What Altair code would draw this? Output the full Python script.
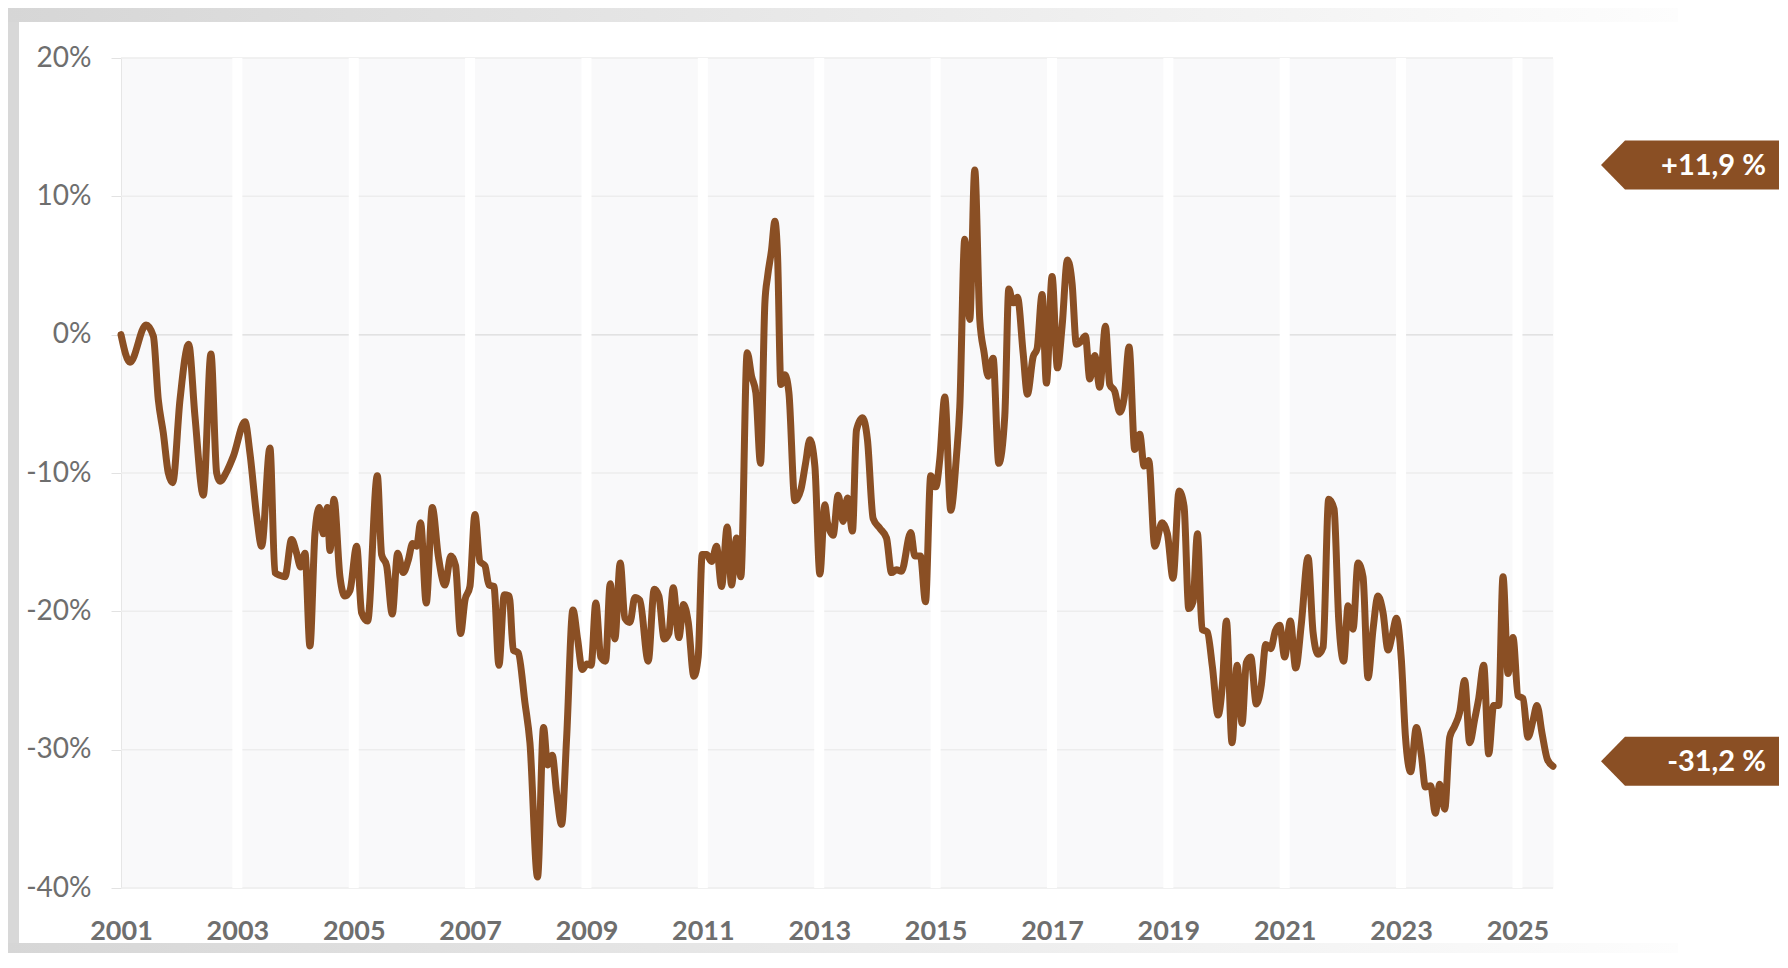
import altair as alt
import pandas as pd

# ---- data (decimal year, % change) ----
t = [2001.000, 2001.155, 2001.430, 2001.556, 2001.641, 2001.727, 2001.813, 2001.888,
     2002.014, 2002.163, 2002.271, 2002.415, 2002.546, 2002.644, 2002.701, 2002.816,
     2002.930, 2003.131, 2003.217, 2003.331, 2003.417, 2003.560, 2003.646, 2003.732,
     2003.818, 2003.932, 2004.018, 2004.087, 2004.162, 2004.247, 2004.333, 2004.408,
     2004.476, 2004.545, 2004.591, 2004.660, 2004.763, 2004.849, 2004.935, 2005.050,
     2005.135, 2005.238, 2005.405, 2005.479, 2005.565, 2005.662, 2005.754, 2005.851,
     2005.937, 2006.012, 2006.080, 2006.149, 2006.246, 2006.350, 2006.453, 2006.567,
     2006.670, 2006.750, 2006.836, 2006.911, 2006.997, 2007.083, 2007.169, 2007.255,
     2007.323, 2007.409, 2007.495, 2007.587, 2007.673, 2007.742, 2007.827, 2007.942,
     2008.028, 2008.159, 2008.262, 2008.331, 2008.411, 2008.486, 2008.572, 2008.658,
     2008.767, 2008.847, 2008.927, 2009.007, 2009.080, 2009.160, 2009.245, 2009.328,
     2009.408, 2009.488, 2009.580, 2009.660, 2009.746, 2009.832, 2009.918, 2010.061,
     2010.164, 2010.244, 2010.336, 2010.416, 2010.491, 2010.588, 2010.668, 2010.749,
     2010.846, 2010.920, 2010.989, 2011.064, 2011.149, 2011.235, 2011.321, 2011.419,
     2011.493, 2011.579, 2011.653, 2011.762, 2011.837, 2011.911, 2011.991, 2012.066,
     2012.112, 2012.180, 2012.238, 2012.284, 2012.341, 2012.410, 2012.479, 2012.582,
     2012.685, 2012.765, 2012.839, 2012.925, 2013.011, 2013.097, 2013.142, 2013.239,
     2013.325, 2013.411, 2013.485, 2013.571, 2013.640, 2013.743, 2013.829, 2013.927,
     2014.041, 2014.156, 2014.242, 2014.327, 2014.413, 2014.574, 2014.642, 2014.740,
     2014.826, 2014.917, 2015.003, 2015.072, 2015.158, 2015.261, 2015.358, 2015.416,
     2015.501, 2015.587, 2015.673, 2015.759, 2015.834, 2015.902, 2015.988, 2016.086,
     2016.189, 2016.258, 2016.332, 2016.407, 2016.504, 2016.578, 2016.676, 2016.745,
     2016.830, 2016.905, 2017.002, 2017.094, 2017.174, 2017.266, 2017.346, 2017.420,
     2017.495, 2017.575, 2017.650, 2017.735, 2017.821, 2017.919, 2017.993, 2018.079,
     2018.165, 2018.240, 2018.325, 2018.423, 2018.509, 2018.583, 2018.663, 2018.767,
     2018.892, 2018.984, 2019.081, 2019.185, 2019.270, 2019.351, 2019.425, 2019.500,
     2019.580, 2019.671, 2019.757, 2019.855, 2019.929, 2019.998, 2020.095, 2020.181,
     2020.267, 2020.341, 2020.416, 2020.513, 2020.599, 2020.674, 2020.760, 2020.840,
     2020.914, 2020.999, 2021.097, 2021.189, 2021.286, 2021.401, 2021.487, 2021.573,
     2021.659, 2021.756, 2021.848, 2021.928, 2022.014, 2022.089, 2022.174, 2022.260,
     2022.346, 2022.432, 2022.518, 2022.604, 2022.690, 2022.776, 2022.845, 2022.919,
     2023.005, 2023.074, 2023.165, 2023.263, 2023.349, 2023.418, 2023.509, 2023.589,
     2023.664, 2023.750, 2023.836, 2023.921, 2024.007, 2024.093, 2024.179, 2024.265,
     2024.334, 2024.420, 2024.506, 2024.591, 2024.677, 2024.752, 2024.838, 2024.924,
     2025.010, 2025.095, 2025.181, 2025.267, 2025.336, 2025.422, 2025.514, 2025.611]

v = [0.0, -2.0, 0.7, -0.1, -4.7, -7.1, -10.0, -10.7,
     -4.7, -0.7, -5.9, -11.6, -1.4, -10.0, -10.6, -9.9,
     -8.8, -6.3, -8.6, -13.1, -15.3, -8.2, -17.2, -17.4,
     -17.5, -14.8, -15.8, -16.8, -15.8, -22.5, -14.4, -12.5,
     -14.4, -12.5, -15.6, -11.9, -17.5, -18.9, -18.5, -15.3,
     -20.1, -20.7, -10.2, -15.9, -16.7, -20.2, -15.8, -17.2,
     -16.3, -15.1, -15.3, -13.6, -19.4, -12.5, -16.0, -18.1,
     -16.0, -16.7, -21.6, -19.2, -18.2, -13.0, -16.4, -16.7,
     -18.1, -18.2, -23.9, -18.8, -18.9, -22.8, -23.0, -26.6,
     -29.5, -39.2, -28.4, -31.1, -30.4, -33.1, -35.4, -29.2,
     -19.9, -22.0, -24.2, -23.8, -23.9, -19.4, -23.3, -23.6,
     -18.0, -22.0, -16.5, -20.5, -20.8, -19.0, -19.2, -23.6,
     -18.4, -18.9, -22.0, -21.6, -18.3, -21.9, -19.5, -20.8,
     -24.7, -23.3, -15.9, -15.9, -16.4, -15.3, -18.2, -13.9,
     -18.1, -14.7, -17.5, -1.3, -3.0, -4.2, -9.3, 2.3,
     4.2, 6.1, 8.2, 5.7, -3.6, -2.9, -4.2, -12.0,
     -11.2, -9.3, -7.6, -9.5, -17.3, -12.3, -13.6, -14.5,
     -11.6, -13.5, -11.8, -14.2, -6.9, -6.0, -7.6, -13.3,
     -14.0, -14.7, -17.2, -17.0, -17.1, -14.3, -16.0, -16.0,
     -19.3, -10.2, -11.0, -9.0, -4.5, -12.7, -8.8, -5.2,
     6.9, 1.1, 11.9, 1.1, -1.3, -3.0, -1.7, -9.3,
     -5.9, 3.3, 2.3, 2.7, -1.3, -4.3, -1.6, -1.0,
     2.9, -3.5, 4.2, -2.4, 0.6, 5.4, 3.7, -0.7,
     -0.5, -0.1, -3.2, -1.5, -3.8, 0.6, -3.6, -4.1,
     -5.6, -4.6, -0.9, -8.3, -7.2, -9.5, -9.1, -15.3,
     -13.6, -14.4, -17.6, -11.3, -12.4, -19.8, -19.3, -14.4,
     -21.3, -21.5, -24.0, -27.5, -25.3, -20.7, -29.5, -23.9,
     -28.1, -23.7, -23.3, -26.7, -25.3, -22.4, -22.7, -21.4,
     -21.0, -23.3, -20.7, -24.1, -20.9, -16.1, -21.5, -23.1,
     -22.6, -11.9, -12.6, -20.6, -23.6, -19.6, -21.3, -16.5,
     -17.5, -24.8, -21.3, -18.9, -20.1, -22.8, -21.8, -20.5,
     -23.5, -29.0, -31.6, -28.4, -30.4, -32.7, -32.6, -34.6,
     -32.5, -34.3, -29.1, -28.3, -27.3, -25.0, -29.5, -27.8,
     -26.3, -23.9, -30.3, -26.8, -26.8, -17.5, -24.5, -21.9,
     -26.1, -26.3, -29.1, -27.9, -26.8, -28.8, -30.7, -31.2]

x_ticks = [2001, 2003, 2005, 2007, 2009, 2011, 2013, 2015, 2017, 2019, 2021, 2023, 2025]
stripe_years = [2003, 2005, 2007, 2009, 2011, 2013, 2015, 2017, 2019, 2021, 2023, 2025]
y_ticks = [-40, -30, -20, -10, 0, 10, 20]
tag_values = [11.9, -31.2]
tag_labels = [f"{x:+.1f}".replace(".", ",") + " %" for x in tag_values]

# ---- styling / layout ----
BROWN = "#8a4f24"
GRAY_TXT = "#6e6e6e"
FONT = "Lato"
W, H = 1432, 830
PAD_L, PAD_T = 113, 50
CANVAS_W, CANVAS_H = 1772, 945
PAD_R = CANVAS_W - PAD_L - W
PAD_B = CANVAS_H - PAD_T - H

df = pd.DataFrame({"t": t, "v": v})
stripes = pd.DataFrame({"t": stripe_years})
grid = pd.DataFrame({"v": y_ticks})
tags = pd.DataFrame({"v": tag_values, "label": tag_labels})
one = pd.DataFrame({"k": [0]})

xs = alt.Scale(domain=[t[0], t[-1]], nice=False, zero=False)
ys = alt.Scale(domain=[y_ticks[0], y_ticks[-1]], nice=False, zero=False)

x_axis = alt.Axis(values=x_ticks, format="d", ticks=False, domain=False,
                  grid=False, labelPadding=30, labelFont=FONT,
                  labelFontSize=27, labelFontWeight="bold",
                  labelColor=GRAY_TXT, labelFlush=False, title=None)
y_axis = alt.Axis(values=y_ticks, labelExpr="datum.value + '%'",
                  grid=False, tickSize=10, tickColor="#e2e2e2",
                  domainColor="#e6e6e6", labelPadding=20,
                  labelFont=FONT, labelFontSize=28,
                  labelColor=GRAY_TXT, labelFlush=False, title=None)

X = lambda f: alt.X(f, scale=xs, axis=x_axis)
Y = lambda f: alt.Y(f, scale=ys, axis=y_axis)

fade = alt.LinearGradient(
    gradient="linear",
    stops=[alt.GradientStop(color="#d6d6d6", offset=0),
           alt.GradientStop(color="#fdfdfd", offset=1)],
    x1=0, x2=1, y1=0, y2=0,
)

left_band = alt.Chart(one).mark_rect(color="#d8d8d8").encode(
    x=alt.value(-PAD_L), x2=alt.value(-102),
    y=alt.value(-PAD_T), y2=alt.value(H + PAD_B))
top_band = alt.Chart(one).mark_rect(color=fade).encode(
    x=alt.value(-PAD_L), x2=alt.value(1557),
    y=alt.value(-PAD_T), y2=alt.value(-36))
bottom_band = alt.Chart(one).mark_rect(color=fade).encode(
    x=alt.value(-PAD_L), x2=alt.value(1557),
    y=alt.value(H + PAD_B - 10), y2=alt.value(H + PAD_B))

grid_rules = alt.Chart(grid).mark_rule(color="#ededed", strokeWidth=1.5).encode(
    y=Y("v:Q"), x=alt.value(0), x2=alt.value(W))
zero_rule = alt.Chart(grid).transform_filter("datum.v == 0").mark_rule(
    color="#e2e2e2", strokeWidth=1.5).encode(
    y=Y("v:Q"), x=alt.value(0), x2=alt.value(W))

stripe_rules = alt.Chart(stripes).mark_rule(color="white", strokeWidth=10).encode(
    x=X("t:Q"), y=alt.value(0), y2=alt.value(H))

line = alt.Chart(df).mark_line(
    color=BROWN, strokeWidth=7, interpolate="monotone",
    strokeJoin="round", strokeCap="round").encode(
    x=X("t:Q"), y=Y("v:Q"))

TAG_PATH = "M -1 0 L -0.7303 -0.2753 L 1 -0.2753 L 1 0.2753 L -0.7303 0.2753 Z"
tag_shape = alt.Chart(tags).mark_point(
    shape=TAG_PATH, filled=True, opacity=1, color=BROWN, size=178 * 178,
    strokeWidth=0, yOffset=-5).encode(
    x=alt.value(1569), y=Y("v:Q"))
tag_text = alt.Chart(tags).mark_text(
    align="right", baseline="middle", font=FONT, fontSize=29,
    fontWeight="bold", color="white", yOffset=-4).encode(
    x=alt.value(1645), y=Y("v:Q"), text="label:N")

chart = alt.layer(
    left_band, top_band, bottom_band,
    grid_rules, zero_rule, stripe_rules, line, tag_shape, tag_text,
).properties(
    width=W, height=H,
    autosize=alt.AutoSizeParams(type="none"),
    padding={"left": PAD_L, "top": PAD_T, "right": PAD_R, "bottom": PAD_B},
    background="white",
).configure_view(
    fill="#f9f9fa", stroke="transparent",
)

chart.save("out.html", embed_options={"renderer": "svg", "actions": False})
